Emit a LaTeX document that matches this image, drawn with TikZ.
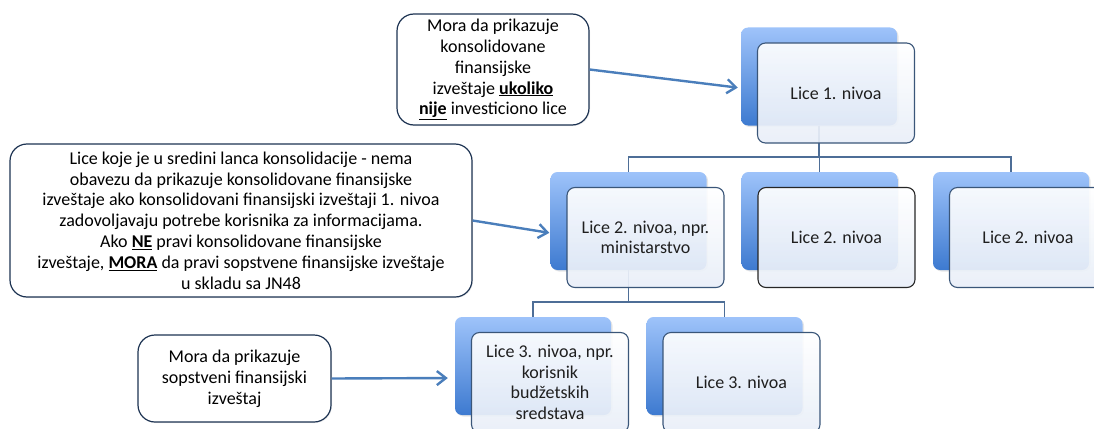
\documentclass[tikz,border=0pt]{standalone}
\usepackage{fontspec}
\setmainfont{Carlito}
\usetikzlibrary{arrows.meta}
\usetikzlibrary{shadows}
\usetikzlibrary{backgrounds}
\definecolor{tierhi}{HTML}{9EC3FA}
\definecolor{tierlo}{HTML}{3D7AD0}
\definecolor{cardlo}{HTML}{E8EEF8}
\definecolor{frameblue}{HTML}{3A5679}
\definecolor{notefrm}{HTML}{1D3352}
\definecolor{linkblue}{HTML}{4A7EBB}
\definecolor{treeblue}{HTML}{4E6E97}
\newcommand{\ulb}[1]{\underline{\textbf{#1}}}
\tikzset{
tier/.style={rounded corners=7pt,minimum width=156pt,minimum height=98pt,
top color=tierhi,bottom color=tierlo,
drop shadow={shadow xshift=1.5pt,shadow yshift=-1.5pt,opacity=.2}},
card/.style={rounded corners=8pt,minimum width=157pt,minimum height=100pt,
draw=frameblue,line width=1.1pt,top color=white,bottom color=cardlo,
fill opacity=.92,text opacity=1,align=center,text=black!88,
font=\fontsize{18}{20.5}\selectfont},
note/.style={rounded corners=17pt,draw=notefrm,line width=1.2pt,fill=white,
align=center,inner sep=2pt,font=\fontsize{18}{20.8}\selectfont,
drop shadow={shadow xshift=1pt,shadow yshift=-1pt,opacity=.15}},
link/.style={-{Straight Barb[length=9pt,width=14pt]},linkblue,line width=2.4pt},
tree/.style={treeblue,line width=1.3pt}
}
\begin{document}
\begin{tikzpicture}[x=1pt,y=-1pt]
\useasboundingbox(0,0)rectangle(1094,428);
\clip(0,0)rectangle(1094,428);

% organisation levels
\node[tier](L1b)at(819,76.5){};
\node[card](L1)at([shift={(17,16.5)}]L1b){Lice 1. nivoa};
\node[tier](L2ab)at(628.5,221){};
\node[card](L2a)at([shift={(17,16.5)}]L2ab){Lice 2. nivoa, npr.\\ministarstvo};
\node[tier](L2bb)at(819.5,221){};
\node[card,draw=black!85](L2b)at([shift={(17,16.5)}]L2bb){Lice 2. nivoa};
\node[tier](L2cb)at(1011,221){};
\node[card](L2c)at([shift={(17,16.5)}]L2cb){Lice 2. nivoa};
\node[tier](L3ab)at(533,366){};
\node[card](L3a)at([shift={(17,16.5)}]L3ab){Lice 3. nivoa, npr.\\korisnik\\budžetskih\\sredstava};
\node[tier](L3bb)at(724.5,366){};
\node[card](L3b)at([shift={(17,16.5)}]L3bb){Lice 3. nivoa};

% notes
\node[note,minimum width=192pt,minimum height=111pt](C1)at(493,69.5){Mora da prikazuje\\
konsolidovane\\finansijske\\izveštaje \ulb{ukoliko}\\\ulb{nije} investiciono lice};
\node[note,minimum width=462pt,minimum height=153pt](C2)at(241,220.5){Lice koje je u sredini lanca konsolidacije - nema\\
obavezu da prikazuje konsolidovane finansijske\\
izveštaje ako konsolidovani finansijski izveštaji 1. nivoa\\
zadovoljavaju potrebe korisnika za informacijama.\\
Ako \ulb{NE} pravi konsolidovane finansijske\\
izveštaje, \ulb{MORA} da pravi sopstvene finansijske izveštaje\\
u skladu sa JN48};
\node[note,minimum width=193pt,minimum height=87pt](C3)at(234.5,378.5){Mora da prikazuje\\
sopstveni finansijski\\izveštaj};

\draw[link,shorten >=3pt](C1.east)--([yshift=-11.5pt]L1b.west);
\draw[link,shorten >=1pt](C2.east)--([yshift=-12pt]L2ab.west);
\draw[link,shorten >=7pt](C3.east)--([yshift=-12pt]L3ab.west);

% tree lines
\coordinate(bar1)at(0,157);
\coordinate(bar2)at(0,302);
\begin{scope}[on background layer]
\draw[tree](L1b.south)--(L1b.south|-bar1);
\draw[tree](L2ab.north)|-(L2cb.north|-bar1)--(L2cb.north);
\draw[tree](L2bb.north)--(L2bb.north|-bar1);
\draw[tree](L2ab.south)--(L2ab.south|-bar2);
\draw[tree](L3ab.north)|-(L3bb.north|-bar2)--(L3bb.north);
\end{scope}
\end{tikzpicture}
\end{document}
